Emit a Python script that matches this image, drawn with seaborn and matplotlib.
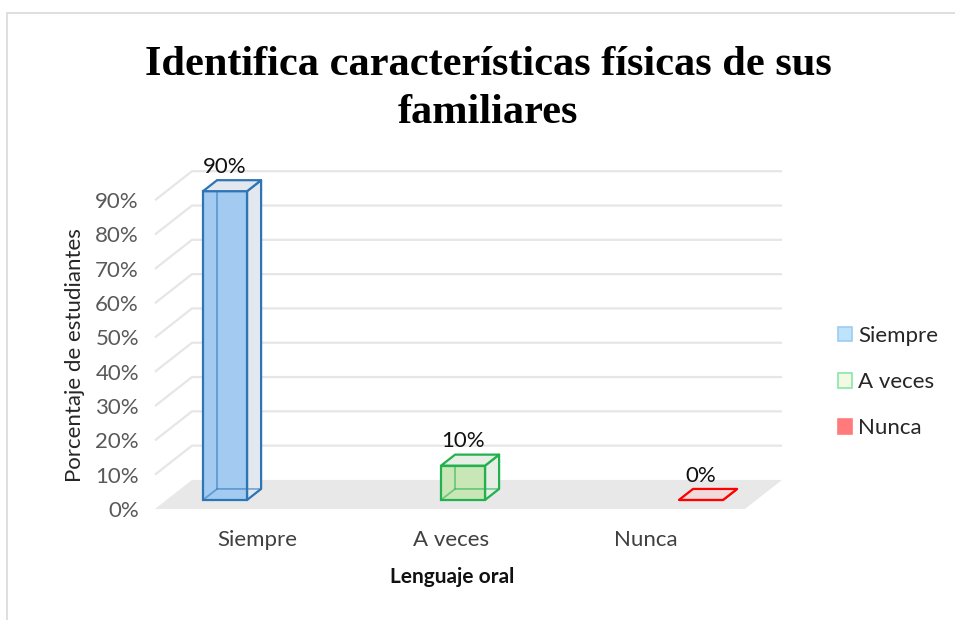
import matplotlib
matplotlib.use("Agg")
import matplotlib.pyplot as plt
from matplotlib.patches import Polygon, Patch, Rectangle
import seaborn as sns

# datos del gráfico
categorias = ["Siempre", "A veces", "Nunca"]
porcentajes = [90, 10, 0]
ticks_y = [0, 10, 20, 30, 40, 50, 60, 70, 80, 90]

# estilo (colores tipo Excel 3D)
color_frente = ["#a3caf0", "#c9e7b6", "#f3dada"]
color_borde = ["#2e75b6", "#22b14c", "#ff0000"]
color_lado = ["#e3e8ee", "#e6eee6", "#f3dada"]
color_leyenda = ["#bfe3fb", "#f3f9e2", "#ff7b7b"]
borde_leyenda = ["#9ccdf3", "#86e9a8", "#ff7b7b"]

sns.set_theme(style="white")
plt.rcParams["font.family"] = ["Lato", "DejaVu Sans"]

fig = plt.figure(figsize=(9.55, 6.2), dpi=100)
ax = fig.add_axes([0.1484, 0.1715, 0.6978, 0.5865])

# caras frontales con seaborn
w = 0.185
sns.barplot(x=categorias, y=porcentajes, hue=categorias, palette=color_frente,
            saturation=1, width=w, legend=False, ax=ax, zorder=3)
barras = [p for c in ax.containers for p in c]

# profundidad total de la "caja" 3D en unidades de datos
DX, DY = 0.1555, 8.45
t_front, t_back, t_bar = -0.31, 0.69, 0.38
L, R = -0.246, 2.233

# piso
floor = Polygon([(L + t_front * DX, t_front * DY), (R + t_front * DX, t_front * DY),
                 (R + t_back * DX, t_back * DY), (L + t_back * DX, t_back * DY)],
                closed=True, facecolor="#e8e8e8", edgecolor="none", zorder=0)
ax.add_patch(floor)

# líneas de cuadrícula (pared lateral + pared del fondo)
for v in ticks_y[1:]:
    ax.plot([L + t_front * DX, L + t_back * DX, R + t_back * DX],
            [v + t_front * DY, v + t_back * DY, v + t_back * DY],
            color="#e6e6e6", lw=1.6, zorder=0.5, solid_capstyle="butt")

bx, by = t_bar * DX, t_bar * DY
for i, (p, v) in enumerate(zip(barras, porcentajes)):
    p.set_edgecolor(color_borde[i])
    p.set_linewidth(1.6)
    x0 = p.get_x()
    x1 = x0 + p.get_width()
    ec = color_borde[i]
    # aristas traseras (se ven a través)
    ax.plot([x0, x0 + bx, x1 + bx], [0, by, by], color=ec, lw=1.3, alpha=0.55, zorder=3.5)
    ax.plot([x0 + bx, x0 + bx], [by, v + by], color=ec, lw=1.3, alpha=0.55, zorder=3.5)
    # cara lateral
    ax.add_patch(Polygon([(x1, 0), (x1 + bx, by), (x1 + bx, v + by), (x1, v)], closed=True,
                         facecolor=color_lado[i], edgecolor=ec, lw=1.6, zorder=2.5,
                         joinstyle="round"))
    # cara superior
    ax.add_patch(Polygon([(x0, v), (x1, v), (x1 + bx, v + by), (x0 + bx, v + by)], closed=True,
                         facecolor=color_lado[i] if v > 0 else color_frente[i],
                         edgecolor=ec, lw=1.6, zorder=4, joinstyle="round"))
    ax.text(i, v + by + 1.0, f"{v}%", ha="center", va="bottom", fontsize=16, color="#111111")

ax.set_xlim(-0.35, 2.45)
ax.set_ylim(-4, 102)
for s in ax.spines.values():
    s.set_visible(False)
ax.grid(False)

ax.set_yticks([v + t_front * DY for v in ticks_y])
ax.set_yticklabels([f"{v}%" for v in ticks_y], fontsize=16, color="#595959")
ax.set_xticks([0.134 + 0.8175 * i for i in range(len(categorias))])
ax.set_xticklabels(categorias, fontsize=16, color="#404040")
ax.tick_params(axis="y", length=0, pad=2)
ax.tick_params(axis="x", length=0, pad=12)
ax.set_xlabel("")
ax.set_ylabel("")

# títulos y etiquetas
fig.text(488 / 955, 1 - 75 / 620, "Identifica características físicas de sus",
         ha="center", va="baseline", fontsize=30.5, fontweight="bold", color="black",
         family=["Liberation Serif", "DejaVu Serif"])
fig.text(488 / 955, 1 - 123 / 620, "familiares",
         ha="center", va="baseline", fontsize=30.5, fontweight="bold", color="black",
         family=["Liberation Serif", "DejaVu Serif"])
fig.text(75 / 955, 1 - 355 / 620, "Porcentaje de estudiantes", rotation=90,
         ha="center", va="center", fontsize=16, color="#262626")
fig.text(452 / 955, 1 - 577 / 620, "Lenguaje oral", ha="center", va="center",
         fontsize=15, fontweight="bold", color="#111111")

# leyenda
handles = [Patch(facecolor=color_leyenda[i], edgecolor=borde_leyenda[i], lw=1.2, label=c)
           for i, c in enumerate(categorias)]
fig.legend(handles=handles, loc="center left", bbox_to_anchor=(838 / 955, 1 - 382 / 620),
           frameon=False, fontsize=16, handlelength=0.65, handleheight=0.65,
           handletextpad=0.25, labelspacing=1.18, borderaxespad=0, borderpad=0)

# marco del área del gráfico
fig.patches.append(Rectangle((7 / 955, -0.2), 1.2, 1 - 13 / 620 + 0.2, transform=fig.transFigure,
                             facecolor="none", edgecolor="#d9d9d9", lw=1.2, zorder=-1))

fig.savefig("out.png", dpi=100)
